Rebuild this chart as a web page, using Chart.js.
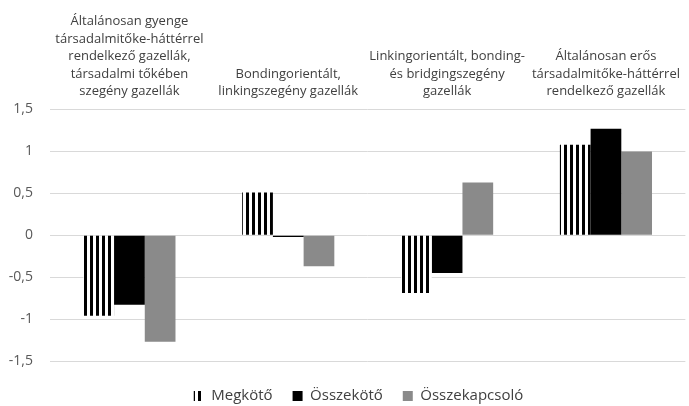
<!DOCTYPE html>
<html>
<head>
<meta charset="utf-8">
<script src="https://cdn.jsdelivr.net/npm/chart.js@4/dist/chart.umd.min.js"></script>
<style>
  html, body { margin: 0; padding: 0; background: #fff; }
  #wrap { width: 689px; height: 406px; }
</style>
</head>
<body>
<div id="wrap"><canvas id="chart"></canvas></div>
<script>
const categories = [
  ["Általánosan gyenge", "társadalmitőke-háttérrel", "rendelkező gazellák,", "társadalmi tőkében", "szegény gazellák"],
  ["Bondingorientált,", "linkingszegény gazellák"],
  ["Linkingorientált, bonding-", "és bridgingszegény", "gazellák"],
  ["Általánosan erős", "társadalmitőke-háttérrel", "rendelkező gazellák"]
];
const megkoto = [-0.96, 0.51, -0.69, 1.08];
const osszekoto = [-0.83, -0.02, -0.45, 1.27];
const osszekapcsolo = [-1.27, -0.37, 0.63, 1.0];

const fontFamily = "'Open Sans', 'Liberation Sans', sans-serif";

// vertical stripe pattern for "Megkötő"
function stripes() {
  const c = document.createElement('canvas');
  c.width = 6; c.height = 6;
  const g = c.getContext('2d');
  g.fillStyle = '#fff';
  g.fillRect(0, 0, 6, 6);
  g.fillStyle = '#000';
  g.fillRect(0, 0, 3, 6);
  return g.createPattern(c, 'repeat');
}

// the legend sits lower and a little right of the centre of its box
const legendShift = {
  id: 'legendShift',
  afterLayout(chart) {
    chart.legend.top += 7.5;
    chart.legend.bottom += 7.5;
    chart.legend.left += 14;
    chart.legend.right += 14;
  }
};

const ctx = document.getElementById('chart').getContext('2d');
new Chart(ctx, {
  type: 'bar',
  data: {
    labels: categories,
    datasets: [
      { label: 'Megkötő', data: megkoto, backgroundColor: stripes() },
      { label: 'Összekötő', data: osszekoto, backgroundColor: '#000000' },
      { label: 'Összekapcsoló', data: osszekapcsolo, backgroundColor: '#8a8a8a' }
    ]
  },
  plugins: [legendShift],
  options: {
    responsive: true,
    maintainAspectRatio: false,
    animation: false,
    layout: { padding: { top: 4, right: 0, left: 0, bottom: 0 } },
    datasets: {
      bar: { barPercentage: 1, categoryPercentage: 0.58 }
    },
    scales: {
      x: {
        position: 'top',
        grid: { display: false, drawTicks: false },
        border: { display: false },
        ticks: {
          color: '#404040',
          maxRotation: 0,
          autoSkip: false,
          padding: 9,
          font: { family: fontFamily, size: 13, lineHeight: '17.5px' }
        }
      },
      y: {
        min: -1.5,
        max: 1.5,
        border: { display: false },
        grid: { color: '#d9d9d9', lineWidth: 1, drawTicks: false },
        afterFit: function (scale) { scale.width = 50; },
        ticks: {
          stepSize: 0.5,
          padding: 17,
          color: '#595959',
          font: { family: fontFamily, size: 14 },
          callback: function (v) { return String(v).replace('.', ','); }
        }
      }
    },
    plugins: {
      tooltip: { enabled: false },
      legend: {
        position: 'bottom',
        labels: {
          boxWidth: 10,
          boxHeight: 10,
          padding: 20,
          color: '#404040',
          font: { family: fontFamily, size: 15 }
        }
      }
    }
  }
});
</script>
</body>
</html>
